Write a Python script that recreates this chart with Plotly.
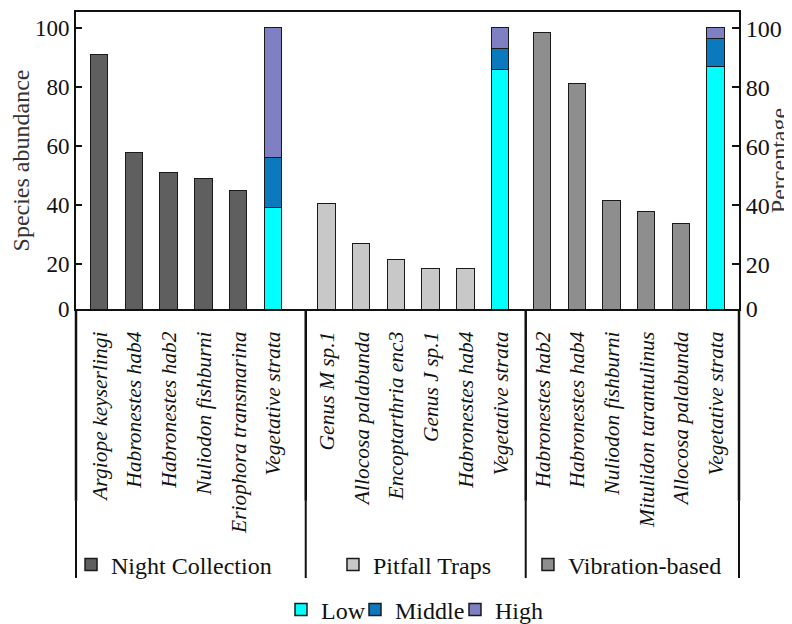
import plotly.graph_objects as go

# ---------------- data ----------------
methods = ["Night Collection", "Pitfall Traps", "Vibration-based"]

night_species = ["Argiope keyserlingi", "Habronestes hab4", "Habronestes hab2",
                 "Nuliodon fishburni", "Eriophora transmarina"]
night_values = [91, 57.6, 51, 49, 45]

pitfall_species = ["Genus M sp.1", "Allocosa palabunda", "Encoptarthria enc3",
                   "Genus J sp.1", "Habronestes hab4"]
pitfall_values = [40.3, 27, 21.4, 18.5, 18.5]

vibration_species = ["Habronestes hab2", "Habronestes hab4", "Nuliodon fishburni",
                     "Mitulidon tarantulinus", "Allocosa palabunda"]
vibration_values = [98.5, 81.2, 41.4, 37.6, 33.8]

strata_label = "Vegetative strata"
strata_levels = ["Low", "Middle", "High"]
strata_low = [39, 86, 87]
strata_middle = [17, 7, 9.5]
strata_high = [44, 7, 3.5]

y_tick_vals = [20, 40, 60, 80, 100]
y_tick_text = ["20", "40", "60", "80", "100"]

# ---------------- styling / layout constants ----------------
FONT = "Liberation Serif"
method_colors = ["#5f5f5f", "#c8c8c8", "#8e8e8e"]
level_colors = ["#00ffff", "#0a79bd", "#7f7fc3"]
level_legend_widths = [29, 55, 50]
EDGE = "#1a1a1a"
group_starts = [0, 6.55, 12.76]
X_RANGE = [-0.683, 18.42]
Y_MIN, Y_MAX = 4.85, 105.5
BAR_W = 0.5

species_groups = [night_species, pitfall_species, vibration_species]
value_groups = [night_values, pitfall_values, vibration_values]

fig = go.Figure()

tickvals, ticktext = [], []
strata_x = []
for g, (names, vals) in enumerate(zip(species_groups, value_groups)):
    xs = [group_starts[g] + i for i in range(len(names))]
    fig.add_trace(go.Bar(
        x=xs, y=vals, width=BAR_W, name=methods[g],
        marker=dict(color=method_colors[g], line=dict(color=EDGE, width=1.5)),
        legend=f"legend{g + 2}", showlegend=True,
    ))
    tickvals += xs
    ticktext += names
    sx = group_starts[g] + len(names)
    strata_x.append(sx)
    tickvals.append(sx)
    ticktext.append(strata_label)

for lvl, vals, col, lw in zip(strata_levels, [strata_low, strata_middle, strata_high],
                              level_colors, level_legend_widths):
    fig.add_trace(go.Bar(
        x=strata_x, y=vals, width=BAR_W, name=lvl, yaxis="y2",
        marker=dict(color=col, line=dict(color=EDGE, width=1.5)),
        legend="legend", legendwidth=lw,
    ))

LEG_FONT = dict(family=FONT, size=24, color="#111")
GROUP_LEG_Y = -0.862

fig.update_layout(
    width=784, height=616,
    margin=dict(l=68, r=53, t=4, b=315, autoexpand=False),
    paper_bgcolor="white", plot_bgcolor="white",
    barmode="stack", bargap=0,
    font=dict(family=FONT, size=22, color="#111"),
    xaxis=dict(
        range=X_RANGE, showgrid=False, zeroline=False, automargin=False,
        showline=True, mirror=True, linecolor="#111", linewidth=2,
        tickmode="array", tickvals=tickvals, ticktext=ticktext,
        tickangle=-90, ticks="", ticklabelstandoff=12,
        tickfont=dict(family=FONT, size=21.5, style="italic", color="#111"),
    ),
    yaxis=dict(
        range=[Y_MIN, Y_MAX], showgrid=False, zeroline=False, automargin=False,
        showline=True, linecolor="#111", linewidth=2,
        ticks="inside", ticklen=6, tickwidth=2, tickcolor="#111",
        tickmode="array", tickvals=[Y_MIN] + y_tick_vals, ticktext=["0"] + y_tick_text,
        tickfont=dict(family=FONT, size=23, color="#111"),
        title=dict(text="Species abundance", font=dict(family=FONT, size=24, color="#333"),
                   standoff=0),
    ),
    yaxis2=dict(
        range=[Y_MIN, Y_MAX], overlaying="y", side="right", showgrid=False, zeroline=False,
        automargin=False,
        showline=True, linecolor="#111", linewidth=2,
        ticks="inside", ticklen=7, tickwidth=2, tickcolor="#111",
        tickmode="array", tickvals=[Y_MIN] + y_tick_vals, ticktext=["0"] + y_tick_text,
        tickfont=dict(family=FONT, size=24, color="#111"),
        title=dict(text="Percentage", font=dict(family=FONT, size=24, color="#333"),
                   standoff=2),
    ),
    legend=dict(orientation="h", x=0.3092, xanchor="left", y=-1.013, yanchor="middle",
                bgcolor="rgba(0,0,0,0)", font=LEG_FONT, traceorder="normal"),
    legend2=dict(x=-0.0075, xanchor="left", y=GROUP_LEG_Y, yanchor="middle",
                 bgcolor="rgba(0,0,0,0)", font=LEG_FONT),
    legend3=dict(x=0.3876, xanchor="left", y=GROUP_LEG_Y, yanchor="middle",
                 bgcolor="rgba(0,0,0,0)", font=LEG_FONT),
    legend4=dict(x=0.6817, xanchor="left", y=GROUP_LEG_Y, yanchor="middle",
                 bgcolor="rgba(0,0,0,0)", font=LEG_FONT),
)

# vertical frame/divider lines below the axis
for xp in [0, 0.3465, 0.6783, 1]:
    fig.add_shape(type="line", xref="paper", yref="paper", x0=xp, x1=xp, y0=0, y1=-0.646,
                  line=dict(color="#111", width=2.5))
    fig.add_shape(type="line", xref="paper", yref="paper", x0=xp, x1=xp, y0=-0.646, y1=-0.906,
                  line=dict(color="#111", width=2))

fig.write_html("out.html")
